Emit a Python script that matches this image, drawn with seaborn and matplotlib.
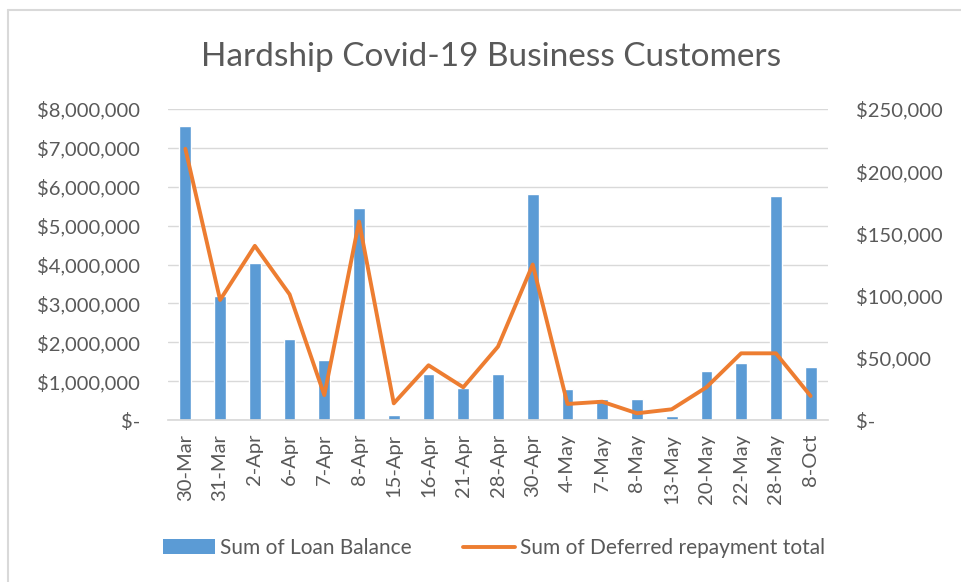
import numpy as np
import pandas as pd
import seaborn as sns
import matplotlib.pyplot as plt
from matplotlib.ticker import FuncFormatter
from matplotlib.patches import Patch
from matplotlib.lines import Line2D

# data
dates = ["30-Mar", "31-Mar", "2-Apr", "6-Apr", "7-Apr", "8-Apr", "15-Apr", "16-Apr",
         "21-Apr", "28-Apr", "30-Apr", "4-May", "7-May", "8-May", "13-May", "20-May",
         "22-May", "28-May", "8-Oct"]
loan_balance = [7560000, 3200000, 4030000, 2080000, 1550000, 5450000, 130000, 1180000,
                820000, 1190000, 5810000, 800000, 530000, 530000, 100000, 1260000,
                1460000, 5750000, 1360000]
deferred = [218000, 96500, 140000, 101000, 20000, 159500, 13400, 44000,
            26300, 59000, 125000, 12900, 14700, 5400, 8600, 26300,
            53600, 53600, 19300]

df = pd.DataFrame({"date": dates, "loan": loan_balance, "deferred": deferred})

sns.set_theme(style="white")
plt.rcParams['font.family'] = ['Lato', 'DejaVu Sans']
grey = "#595959"
blue = "#5b9bd5"
orange = "#ed7d31"

fig = plt.figure(figsize=(9.62, 5.82), dpi=100)
ax = fig.add_axes([168 / 962, 1 - 420 / 582, (828 - 168) / 962, (420 - 109) / 582])

sns.barplot(data=df, x="date", y="loan", color=blue, width=0.34, saturation=1, ax=ax, zorder=2)
ax.set_ylim(0, 8000000)
ax.set_yticks(np.arange(0, 8000001, 1000000))
ax.yaxis.set_major_formatter(FuncFormatter(lambda v, p: "$-" if v == 0 else f"${v:,.0f}"))
ax.grid(axis="y", color="#d9d9d9", linewidth=1, zorder=0)
ax.set_axisbelow(True)
ax.set_xlim(-0.5, len(dates) - 0.5)
ax.set_xlabel("")
ax.set_ylabel("")

ax2 = ax.twinx()
sns.lineplot(x=np.arange(len(dates)), y=df["deferred"], color=orange, linewidth=2.8, ax=ax2)
ax2.set_ylim(0, 250000)
ax2.set_yticks(np.arange(0, 250001, 50000))
ax2.yaxis.set_major_formatter(FuncFormatter(lambda v, p: "$-" if v == 0 else f"${v:,.0f}"))
ax2.set_xlim(-0.5, len(dates) - 0.5)
ax2.set_ylabel("")

for a in (ax, ax2):
    for s in a.spines.values():
        s.set_visible(False)
    a.tick_params(length=0, labelsize=14.5, colors=grey)
ax.spines["bottom"].set_visible(True)
ax.spines["bottom"].set_color("#d9d9d9")
ax.tick_params(axis="y", pad=20)
ax2.tick_params(axis="y", pad=20)
plt.setp(ax.get_xticklabels(), rotation=90)
ax.tick_params(axis="x", pad=10)

fig.text(491 / 962, 1 - 57 / 582, "Hardship Covid-19 Business Customers",
         ha="center", va="center", fontsize=24, color=grey)

handles = [Patch(facecolor=blue, edgecolor="none"),
           Line2D([0], [0], color=orange, linewidth=2.8)]
fig.legend(handles, ["Sum of Loan Balance", "Sum of Deferred repayment total"],
           loc="center", bbox_to_anchor=(494 / 962, 1 - 548 / 582), ncol=2, frameon=False,
           fontsize=15, labelcolor=grey, handlelength=2.5, handletextpad=0.2, columnspacing=2.5)

# chart-area border (top and left edges visible in the reference)
fig.add_artist(Line2D([8 / 962, 8 / 962], [0, 1 - 10 / 582], transform=fig.transFigure,
                      color="#d9d9d9", linewidth=1.5))
fig.add_artist(Line2D([8 / 962, 1], [1 - 10 / 582, 1 - 10 / 582], transform=fig.transFigure,
                      color="#d9d9d9", linewidth=1.5))

fig.savefig("out.png", dpi=100)
